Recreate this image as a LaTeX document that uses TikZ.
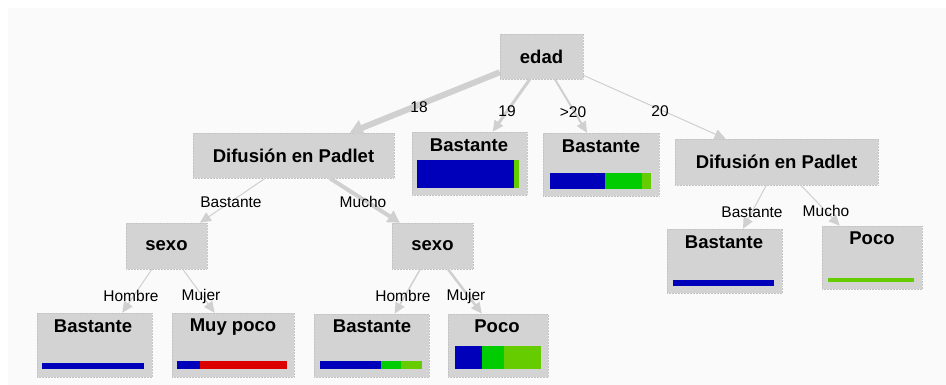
\documentclass[tikz,border=0pt]{standalone}
\usepackage{fontspec}
\setmainfont{Liberation Sans}
\usetikzlibrary{arrows.meta,calc}
\definecolor{bgc}{HTML}{FAFAFA}
\definecolor{boxc}{HTML}{D3D3D3}
\definecolor{boxline}{HTML}{C4C4C4}
\definecolor{edgec}{HTML}{D0D0D0}
\definecolor{barblue}{HTML}{0000BB}
\definecolor{bargreen}{HTML}{00CC00}
\definecolor{barlime}{HTML}{66CC00}
\definecolor{barred}{HTML}{DD0000}
\tikzset{
  box/.style={fill=boxc, draw=boxline, densely dotted, line width=0.5pt, inner sep=0pt,
    font=\fontsize{18.5}{20}\selectfont\bfseries, text=black},
  ttl/.style={inner sep=0pt, font=\fontsize{18.5}{20}\selectfont\bfseries, text=black},
  elab/.style={inner sep=0pt, font=\fontsize{15.5}{17}\selectfont, text=black},
  edge/.style={draw=edgec, -{Triangle[length=11pt,width=10pt]}, fill=edgec},
}
\newcommand{\mybox}[6]{% name, x1, y1, x2, y2, text
  \node[box, minimum width=#4-#2, minimum height=#5-#3] (#1) at ({(#2+#4)/2},{(#3+#5)/2}) {#6};}
\begin{document}
\begin{tikzpicture}[x=1pt,y=-1pt]
\useasboundingbox (0,0) rectangle (946,385);
\fill[bgc] (8,8) rectangle (946,385);
% internal nodes
\mybox{edad}{500}{34}{583}{79}{edad}
\mybox{difL}{193}{133}{394}{178}{Difusión en Padlet}
\mybox{difR}{675}{139}{878}{185}{Difusión en Padlet}
\mybox{sexL}{126}{223}{207}{269}{sexo}
\mybox{sexR}{392}{223}{473}{269}{sexo}
% leaves
\mybox{bA}{412}{132}{527}{195}{}
\mybox{bB}{543}{133}{659}{196}{}
\mybox{bC}{667}{229}{782}{293}{}
\mybox{pC}{822}{226}{922}{289}{}
\mybox{bD}{37}{313}{152}{377}{}
\mybox{mD}{172}{313}{294}{377}{}
\mybox{bE}{314}{314}{429}{377}{}
\mybox{pE}{448}{314}{548}{377}{}
\node[ttl] (tA) at (469,145) {Bastante};
\node[ttl] (tB) at (601,146) {Bastante};
\node[ttl] (tC) at (724,242) {Bastante};
\node[ttl] (tpC) at (872,238) {Poco};
\node[ttl] (tD) at (93,326) {Bastante};
\node[ttl] (tmD) at (233,327) {Muy poco};
\node[ttl] (tE) at (372,326) {Bastante};
\node[ttl] (tpE) at (497,326) {Poco};
% bars
\fill[barblue] (417,160) rectangle (514,188);
\fill[barlime] (514,160) rectangle (519,188);
\fill[barblue] (550,173) rectangle (605,189);
\fill[bargreen] (605,173) rectangle (642,189);
\fill[barlime] (642,173) rectangle (651,189);
\fill[barblue] (673,280) rectangle (774,286);
\fill[barlime] (828,278) rectangle (914,282);
\fill[barblue] (42,363) rectangle (144,369);
\fill[barblue] (177,361) rectangle (200,369);
\fill[barred] (200,361) rectangle (287,369);
\fill[barblue] (320,361) rectangle (381,369);
\fill[bargreen] (381,361) rectangle (401,369);
\fill[barlime] (401,361) rectangle (422,369);
\fill[barblue] (455,346) rectangle (482,369);
\fill[bargreen] (482,346) rectangle (504,369);
\fill[barlime] (504,346) rectangle (541,369);
% edges
\draw[edge, line width=6pt, -{Triangle[length=13pt,width=16pt]}] ($(edad.south west)+(0,-7)$) -- ($(difL.north west)!0.78!(difL.north east)$);
\draw[edge, line width=3pt] ($(edad.south west)!0.36!(edad.south east)$) -- ($(bA.north west)!0.70!(bA.north east)$);
\draw[edge, line width=2pt] ($(edad.south west)!0.66!(edad.south east)$) -- ($(bB.north west)!0.38!(bB.north east)$);
\draw[edge, line width=1pt] ($(edad.south east)+(0,-4)$) -- ($(difR.north west)!0.25!(difR.north east)$);
\draw[edge, line width=1pt] ($(difL.south west)!0.36!(difL.south east)$) -- ($(sexL.north west)!0.91!(sexL.north east)$);
\draw[edge, line width=4pt, -{Triangle[length=12pt,width=13pt]}] ($(difL.south west)!0.68!(difL.south east)$) -- ($(sexR.north west)!0.10!(sexR.north east)$);
\draw[edge, line width=1pt] ($(sexL.south west)!0.32!(sexL.south east)$) -- ($(bD.north west)!0.74!(bD.north east)$);
\draw[edge, line width=1pt] ($(sexL.south west)!0.70!(sexL.south east)$) -- ($(mD.north west)!0.35!(mD.north east)$);
\draw[edge, line width=1.5pt] ($(sexR.south west)!0.35!(sexR.south east)$) -- ($(bE.north west)!0.70!(bE.north east)$);
\draw[edge, line width=2.5pt] ($(sexR.south west)!0.69!(sexR.south east)$) -- ($(pE.north west)!0.34!(pE.north east)$);
\draw[edge, line width=1pt] ($(difR.south west)!0.45!(difR.south east)$) -- ($(bC.north west)!0.66!(bC.north east)$);
\draw[edge, line width=1pt] ($(difR.south west)!0.62!(difR.south east)$) -- ($(pC.north west)!0.18!(pC.north east)$);
% edge labels
\node[elab] (l18) at (419,107) {18};
\node[elab] (l19) at (507,111) {19};
\node[elab] (lg20) at (573,112) {>20};
\node[elab] (l20) at (660,111) {20};
\node[elab] (lbL) at (231,202) {Bastante};
\node[elab] (lmL) at (363,202) {Mucho};
\node[elab] (lh1) at (131,296) {Hombre};
\node[elab] (lm1) at (201,296) {Mujer};
\node[elab] (lh2) at (403,296) {Hombre};
\node[elab] (lm2) at (466,296) {Mujer};
\node[elab] (lbR) at (752,212) {Bastante};
\node[elab] (lmR) at (826,211) {Mucho};
\end{tikzpicture}
\end{document}
